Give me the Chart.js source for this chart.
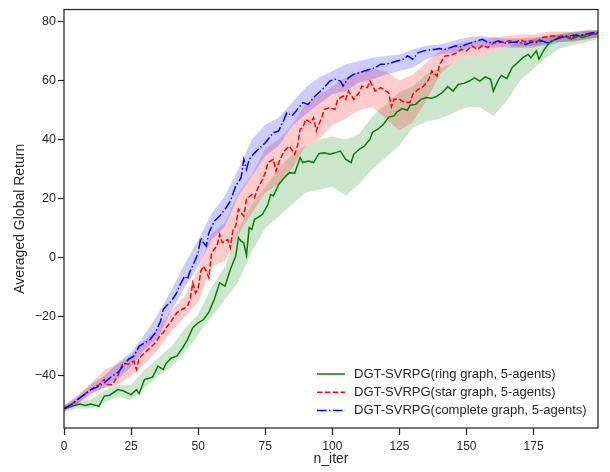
<!DOCTYPE html>
<html>
<head>
<meta charset="utf-8">
<title>DGT-SVRPG averaged global return</title>
<script src="https://cdn.jsdelivr.net/npm/chart.js@4.4.1/dist/chart.umd.min.js"></script>
<style>
    body { margin: 0; background: #fff; }
    canvas { display: block; }
</style>
</head>
<body>
<canvas id="returnChart" width="610" height="472"></canvas>
<script>
// Mean curves (iteration, value)
const ringIter = [0,2,4,6,8,10,12,13,15,17,20,22,25,27,28,30,33,35,37,38,40,42,44,46,48,50,52,54,56,58,60,62,64,65,66,67,68,69,70,71,72,74,76,77,78,80,82,84,86,88,89,91,93,95,97,99,101,103,105,107,108,110,112,114,115,117,119,121,123,124,126,128,129,131,133,135,137,139,141,143,145,147,149,151,153,155,157,159,160,162,163,165,167,169,171,173,174,176,177,179,181,183,185,187,189,191,193,195,197,199];
const ringMean = [-51,-50.5,-50,-49.5,-50,-49.5,-50,-50.3,-46.8,-46.5,-44.6,-45,-46.3,-44.6,-46,-41.2,-40.4,-36.7,-37.8,-35.8,-33.9,-33.3,-30.8,-27.7,-23.7,-22,-20.9,-18.4,-14.1,-8.5,-9.6,-4,0.6,6.8,5.6,5,0.8,10.2,9.6,13,13.5,14.7,18,21.4,20.9,24.8,27,28.8,28.6,33.9,32.2,32.7,32.2,35.2,35.5,35,35.5,36.1,33.3,32.2,35,36.7,37.8,40.1,42.5,43.5,45.1,47.6,48,49.3,50.5,49.9,51.6,51.9,53.6,54.2,54,54.7,55.9,57.9,56.4,58.7,59,59.8,60.9,59.8,61.2,60.4,56.4,60.4,61.7,60.6,64.3,66,67.7,68.8,67.7,70,67.2,70.5,72.8,73.9,74.5,74.8,73.9,75.6,74.5,75,75.6,75.8];

const starIter = [0,3,5,8,10,13,15,16,18,20,22,24,26,27,28,30,32,34,36,37,38,40,42,44,46,47,48,49,50,51,52,53,54,55,57,58,59,61,62,63,64,65,67,68,70,71,72,74,75,76,78,79,80,82,84,86,87,88,89,90,92,93,94,96,97,99,101,102,104,105,106,108,110,111,113,114,116,118,120,121,122,123,125,127,129,130,132,134,136,137,139,140,142,144,146,148,150,152,154,156,158,160,162,164,166,168,170,172,174,176,178,180,182,184,186,188,190,192,194,196,198,199];
const starMean = [-51,-49.5,-48,-46,-44.6,-43,-41.2,-42.9,-43,-40,-35.6,-36,-35,-37.8,-33.9,-32.2,-30.5,-28.8,-26,-25.4,-23.7,-21.4,-18.6,-17.5,-16.4,-14.1,-8.5,-11.9,-10.2,-4.5,-2.8,-4.5,-6.8,1.7,4,7.9,5.1,6.2,3.4,9.6,10.7,16.4,14.1,19.8,21.4,20.3,23.1,26.5,28.8,32.2,33.3,29.3,32.2,36.1,37.8,35,37.8,43.5,44,46.8,45.7,47.4,42.9,47.4,50.2,50.8,50.2,53.6,54.7,53.6,56.4,53.6,55.9,58.1,57.6,59.8,56.4,57.6,56.4,55.9,51.1,53.6,53.6,52.5,52.7,55.3,57,58.1,60.4,63.2,61.5,65.5,68.3,68.5,69.2,70.5,70,71.7,70.5,71.9,71.1,72.6,72.8,73,73.4,72.8,73.7,73,73.4,72.8,74.5,74.8,75.1,74.8,75.1,74.8,74.2,75.1,75.3,75.6,76,76];

const completeIter = [0,3,5,8,10,13,15,18,20,22,24,26,28,30,32,34,36,37,38,40,42,43,45,46,47,49,50,51,52,53,54,56,58,60,62,64,66,67,68,69,71,73,75,77,78,80,82,83,85,87,89,91,93,95,97,99,101,103,104,106,108,110,112,114,116,118,120,122,124,126,128,130,132,134,136,138,140,142,144,146,148,150,152,154,156,158,160,162,164,166,168,170,172,174,176,178,180,182,184,186,188,190,192,194,196,198,199];
const completeMean = [-51,-49.5,-48,-46,-44.6,-43.5,-42.3,-40,-38.9,-36.7,-34.4,-33.3,-29.9,-28.8,-27.7,-25.4,-21.4,-17.5,-16.4,-14.7,-11.9,-9.6,-6.2,-7.3,-4.5,-0.6,1.7,6.8,5.1,4,8.5,12.4,14.1,16.4,19.2,24.3,27.1,33.3,29.9,33.3,35.5,37.2,38.9,41.2,42.3,42.9,46.8,49.1,48,50.2,52.5,51.9,54.2,55.9,57.6,59.8,60.4,59.8,58.1,60.9,62.1,62.6,63.2,63.8,64.3,65.5,65.5,66,66.6,66.9,68.3,67.2,69.4,70,70.3,70.5,70.8,70.5,71.1,71.7,71.4,72.2,72.8,73.4,73.9,72.8,72.8,73.4,72.6,72.8,73,72.8,72.2,72.8,73,73.4,72.8,73.4,74.2,74.8,75.1,75.3,75.1,75.6,76,76.2,76.3];

// Shaded bands, read every 5 iterations
const bandIter = [0,5,10,15,20,25,30,35,40,45,50,55,60,65,70,75,80,85,90,95,100,105,110,115,120,125,130,135,140,145,150,155,160,165,170,175,180,185,190,195,199];
const ringLow = [-52,-51,-51,-49,-47,-48,-44,-40,-37,-32,-26,-20,-14,-8,2,10,14,18,22,23,24,21,25,30,34,38,44,46,47,49,51,51,48,53,60,64,68,71,72,73,74];
const ringHigh = [-50,-48.5,-48,-45,-43,-43,-38,-34,-30,-24,-19,-10,-3,10,18,24,30,35,38,40,41,40,42,48,52,56,58,62,64,66,68,68,70,71,73,74,75,76,76.5,77,77];
const starLow = [-52,-49.5,-46,-44,-43,-40,-36,-31,-25,-20,-15,-3,-1,8,15,22,25,30,38,40,45,47,50,51,47,43,46,53,62,66,68,68,70,71,71,71,73,73,73,74,74.5];
const starHigh = [-50,-46.5,-42.5,-38,-36,-33,-28,-24,-18,-13,-4,8,12,22,28,37,40,45,52,55,58,61,63,64,63,60,62,66,70,72,73,73.5,74.5,75,75.5,75.5,76.5,76.5,76.5,77,77];
const completeLow = [-52,-49.5,-46,-44,-41,-37,-31,-27,-18,-10,-3,6,10.7,21,27.6,34.4,37.8,44.6,48.5,52,55.3,56.4,59.3,60.4,62,63.2,64.3,67.2,68.8,69.4,70.5,71.4,71.1,71.4,71.4,71.7,71.7,73,73.4,73.9,74.5];
const completeHigh = [-50,-47,-43,-40,-35.5,-32,-26,-19,-11,-2,6,15,21,30,40,45,47.4,52.5,57.6,61,63.2,65.5,66.6,67.7,68.3,68.8,70.5,71.7,72.2,73.4,74.5,75,74.5,74.2,74.2,74.5,74.8,75.6,76.2,76.7,77];

// Axis ticks
const xTicks = [0, 25, 50, 75, 100, 125, 150, 175];
const yTicks = [-40, -20, 0, 20, 40, 60, 80];

const seriesLabels = [
    'DGT-SVRPG(ring graph, 5-agents)',
    'DGT-SVRPG(star graph, 5-agents)',
    'DGT-SVRPG(complete graph, 5-agents)'
];

const INK = '#262626';
Chart.defaults.font.family = '"Liberation Sans", Arial, sans-serif';
Chart.defaults.color = INK;

function toPoints(xs, ys) {
    return xs.map((x, i) => ({ x: x, y: ys[i] }));
}

function bandPair(low, high, color, order) {
    return [
        {
            data: toPoints(bandIter, high),
            borderWidth: 0,
            pointRadius: 0,
            backgroundColor: color,
            fill: '+1',
            order: order,
            isBand: true
        },
        {
            data: toPoints(bandIter, low),
            borderWidth: 0,
            pointRadius: 0,
            fill: false,
            order: order,
            isBand: true
        }
    ];
}

function meanLine(label, xs, ys, color, dash, order) {
    return {
        label: label,
        data: toPoints(xs, ys),
        borderColor: color,
        borderWidth: 1.5,
        borderDash: dash,
        pointRadius: 0,
        fill: false,
        tension: 0,
        order: order
    };
}

// Full box around the plot plus legend in the lower right
const framePlugin = {
    id: 'frame',
    afterDraw(chart) {
        const { ctx, chartArea } = chart;
        ctx.save();
        ctx.strokeStyle = INK;
        ctx.lineWidth = 1.25;
        ctx.strokeRect(chartArea.left, chartArea.top, chartArea.right - chartArea.left, chartArea.bottom - chartArea.top);

        const lines = chart.data.datasets.filter(d => !d.isBand);
        const order = seriesLabels.map(l => lines.find(d => d.label === l));
        ctx.font = '13px "Liberation Sans", Arial, sans-serif';
        ctx.textBaseline = 'middle';
        ctx.textAlign = 'left';
        order.forEach((ds, i) => {
            const y = 374 + i * 18.3;
            ctx.beginPath();
            ctx.setLineDash(ds.borderDash || []);
            ctx.strokeStyle = ds.borderColor;
            ctx.lineWidth = 1.5;
            ctx.moveTo(317, y);
            ctx.lineTo(345, y);
            ctx.stroke();
            ctx.setLineDash([]);
            ctx.fillStyle = INK;
            ctx.fillText(ds.label, 354, y);
        });
        ctx.restore();
    }
};

const datasets = [
    meanLine(seriesLabels[2], completeIter, completeMean, 'blue', [9.6, 2.4, 1.5, 2.4], 1),
    meanLine(seriesLabels[1], starIter, starMean, 'red', [5.5, 2.4], 2),
    meanLine(seriesLabels[0], ringIter, ringMean, 'green', [], 3),
    ...bandPair(completeLow, completeHigh, 'rgba(0, 0, 255, 0.2)', 4),
    ...bandPair(starLow, starHigh, 'rgba(255, 0, 0, 0.2)', 5),
    ...bandPair(ringLow, ringHigh, 'rgba(0, 128, 0, 0.2)', 6)
];

new Chart(document.getElementById('returnChart'), {
    type: 'line',
    data: { datasets: datasets },
    options: {
        responsive: false,
        animation: false,
        devicePixelRatio: 1,
        layout: {
            padding: { top: 9, right: 12, left: 0, bottom: 0 }
        },
        plugins: {
            legend: { display: false },
            tooltip: { enabled: false },
            filler: { propagate: false }
        },
        scales: {
            x: {
                type: 'linear',
                min: 0,
                max: 199,
                afterBuildTicks: scale => { scale.ticks = xTicks.map(v => ({ value: v })); },
                afterFit: scale => { scale.height = 44; },
                grid: { drawOnChartArea: false, tickLength: 7, color: INK, tickWidth: 1.25 },
                border: { display: false },
                ticks: { font: { size: 12 }, color: INK, padding: 4, maxRotation: 0 },
                title: { display: true, text: 'n_iter', font: { size: 14 }, color: INK, padding: { top: 0, bottom: 4 } }
            },
            y: {
                type: 'linear',
                min: -57.6,
                max: 84,
                afterBuildTicks: scale => { scale.ticks = yTicks.map(v => ({ value: v })); },
                afterFit: scale => { scale.width = 64; },
                grid: { drawOnChartArea: false, tickLength: 6, color: INK, tickWidth: 1.25 },
                border: { display: false },
                ticks: {
                    font: { size: 12.5 },
                    color: INK,
                    padding: 2,
                    callback: v => String(v).replace('-', '\u2212')
                },
                title: { display: true, text: 'Averaged Global Return', font: { size: 14 }, color: INK, padding: { top: 12, bottom: 0 } }
            }
        }
    },
    plugins: [framePlugin]
});
</script>
</body>
</html>
